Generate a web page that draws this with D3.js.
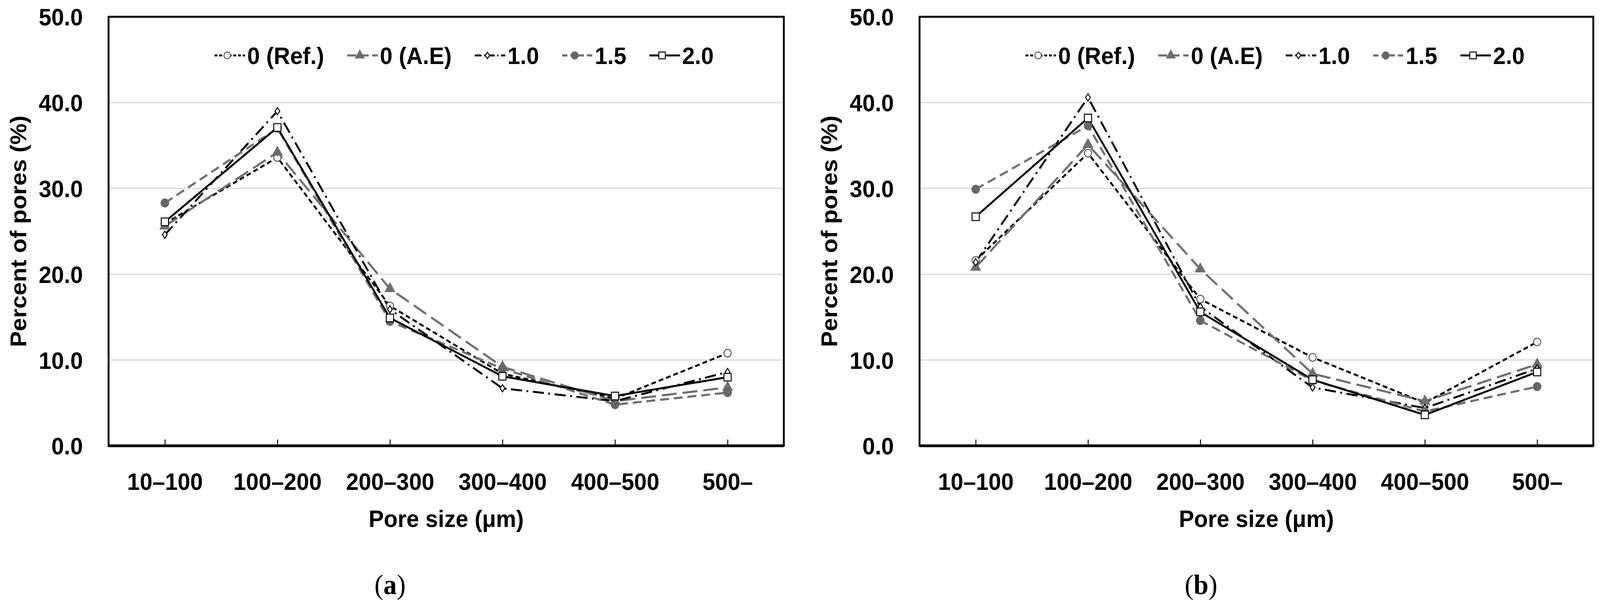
<!DOCTYPE html>
<html><head><meta charset="utf-8">
<script src="https://cdn.jsdelivr.net/npm/d3@7"></script>
<style>
html,body{margin:0;padding:0;background:#fff;width:100%;height:100%;overflow:hidden;}
svg{display:block;width:100vw;height:100vh;}
.lab{font-family:'Liberation Sans',Arial,sans-serif;font-weight:bold;fill:#000;}
.cap{font-family:'Liberation Serif','Times New Roman',serif;fill:#000;}
</style></head><body>
<svg id="chart" viewBox="0 0 4303 1555" preserveAspectRatio="none"></svg>
<script>
// ---------- data ----------
const categories = ["10–100", "100–200", "200–300", "300–400", "400–500", "500–"];
const seriesNames = ["0 (Ref.)", "0 (A.E)", "1.0", "1.5", "2.0"];
const yTicks = [0, 10, 20, 30, 40, 50];
const captions = ["a", "b"];
const xTitle = "Pore size (μm)";
const yTitle = "Percent of pores (%)";

// panel (a)
const a_ref = [25.9, 33.6, 16.3, 8.4, 5.5, 10.8];
const a_ae  = [25.6, 34.2, 18.3, 9.2, 5.2, 6.8];
const a_10  = [24.6, 39.0, 15.9, 6.7, 5.2, 8.6];
const a_15  = [28.3, 37.0, 14.5, 9.0, 4.8, 6.2];
const a_20  = [26.1, 37.1, 14.9, 8.1, 5.8, 8.0];
// panel (b)
const b_ref = [21.6, 34.1, 17.1, 10.3, 5.0, 12.1];
const b_ae  = [20.8, 35.1, 20.6, 8.4, 5.2, 9.5];
const b_10  = [21.4, 40.6, 16.2, 6.8, 4.4, 9.0];
const b_15  = [29.9, 37.3, 14.6, 7.6, 4.0, 6.9];
const b_20  = [26.7, 38.2, 15.6, 7.7, 3.6, 8.6];

// ---------- styles ----------
const diamond = {draw(ctx, size){ const h = Math.sqrt(size/0.7); const w = h*0.7; ctx.moveTo(0,-h/2); ctx.lineTo(w/2,0); ctx.lineTo(0,h/2); ctx.lineTo(-w/2,0); ctx.closePath(); }};
const styles = [
  {stroke:"#000", width:5, dash:"13 8", sym:d3.symbolCircle, size:300, fill:"#fff", mstroke:"#555"},
  {stroke:"#707070", width:5.5, dash:"40 16", sym:d3.symbolTriangle, size:280, fill:"#6e6e6e", mstroke:"#6e6e6e"},
  {stroke:"#000", width:5, dash:"30 12 5 12", sym:diamond, size:240, fill:"#fff", mstroke:"#000"},
  {stroke:"#707070", width:5.5, dash:"24 13", sym:d3.symbolCircle, size:330, fill:"#666", mstroke:"#666"},
  {stroke:"#000", width:5, dash:null, sym:d3.symbolSquare, size:380, fill:"#fff", mstroke:"#000"}
];

const FS = 61;
const panels = [
  {series:[a_ref, a_ae, a_10, a_15, a_20], caption:captions[0], left:292, right:2108},
  {series:[b_ref, b_ae, b_10, b_15, b_20], caption:captions[1], left:2473, right:4285}
];
const plotTop = 43, plotBottom = 1142;
const svg = d3.select("#chart");

panels.forEach(p => {
  const g = svg.append("g");
  const x = d3.scaleBand().domain(categories).range([p.left, p.right]);
  const cx = d => x(d) + x.bandwidth()/2;
  const y = d3.scaleLinear().domain([0, 50]).range([plotBottom, plotTop]);

  // gridlines
  g.append("g").selectAll("line").data(yTicks).join("line")
    .attr("x1", p.left).attr("x2", p.right)
    .attr("y1", d => y(d)).attr("y2", d => y(d))
    .attr("stroke", "#d9d9d9").attr("stroke-width", 3);

  // y axis
  const ya = g.append("g").attr("transform", `translate(${p.left},0)`)
    .call(d3.axisLeft(y).tickValues(yTicks).tickFormat(d3.format(".1f")).tickSize(0).tickPadding(69));
  ya.select(".domain").remove();
  ya.selectAll("text").attr("class", "lab").attr("font-size", FS).attr("dy", "0.36em");

  // x axis
  const xa = g.append("g").attr("transform", `translate(0,${plotBottom})`)
    .call(d3.axisBottom(d3.scalePoint().domain(categories).range([cx(categories[0]), cx(categories[5])])).tickSize(-16).tickPadding(70));
  xa.select(".domain").remove();
  xa.selectAll("line").attr("stroke", "#000").attr("stroke-width", 2.5);
  xa.selectAll("text").attr("class", "lab").attr("font-size", FS);

  // frame
  g.append("rect").attr("x", p.left).attr("y", plotTop).attr("width", p.right - p.left).attr("height", plotBottom - plotTop)
    .attr("fill", "none").attr("stroke", "#000").attr("stroke-width", 5);
  g.append("line").attr("x1", p.left).attr("x2", p.right).attr("y1", plotBottom).attr("y2", plotBottom)
    .attr("stroke", "#000").attr("stroke-width", 7);

  // series
  const line = d3.line().x((d, i) => cx(categories[i])).y(d => y(d));
  p.series.forEach((vals, si) => {
    const s = styles[si];
    g.append("path").attr("d", line(vals)).attr("fill", "none")
      .attr("stroke", s.stroke).attr("stroke-width", s.width)
      .attr("stroke-dasharray", s.dash).attr("stroke-linejoin", "round");
  });
  p.series.forEach((vals, si) => {
    const s = styles[si];
    g.append("g").selectAll("path").data(vals).join("path")
      .attr("transform", (d, i) => `translate(${cx(categories[i])},${y(d)})`)
      .attr("d", d3.symbol(s.sym, s.size)())
      .attr("fill", s.fill).attr("stroke", s.mstroke).attr("stroke-width", 2.5);
  });

  // legend
  const lg = g.append("g");
  let lx = p.left + 285;
  const ly = 142;
  seriesNames.forEach((name, si) => {
    const s = styles[si];
    lg.append("line").attr("x1", lx).attr("x2", lx + 82).attr("y1", ly).attr("y2", ly)
      .attr("stroke", s.stroke).attr("stroke-width", s.width)
      .attr("stroke-dasharray", s.dash ? s.dash.split(" ").map(v => v*0.6).join(" ") : null);
    lg.append("path").attr("transform", `translate(${lx + 34},${ly})`)
      .attr("d", d3.symbol(s.sym, s.size*0.8)())
      .attr("fill", s.fill).attr("stroke", s.mstroke).attr("stroke-width", 2.5);
    const t = lg.append("text").attr("class", "lab").attr("font-size", FS)
      .attr("x", lx + 88).attr("y", ly).attr("dy", "0.36em").text(name);
    lx = lx + 88 + t.node().getComputedTextLength() + 62;
  });

  // axis titles
  g.append("text").attr("class", "lab").attr("font-size", FS).attr("text-anchor", "middle")
    .attr("x", (p.left + p.right)/2).attr("y", 1350).text(xTitle);
  g.append("text").attr("class", "lab").attr("font-size", FS).attr("text-anchor", "middle")
    .attr("transform", `translate(${p.left - 222},${(plotTop + plotBottom)/2}) rotate(-90)`).text(yTitle);

  // caption
  const c = g.append("text").attr("class", "cap").attr("font-size", 72).attr("text-anchor", "middle")
    .attr("x", p.left + 757).attr("y", 1522);
  c.append("tspan").text("(");
  c.append("tspan").attr("font-weight", "bold").text(p.caption);
  c.append("tspan").text(")");
});
</script>
</body></html>
